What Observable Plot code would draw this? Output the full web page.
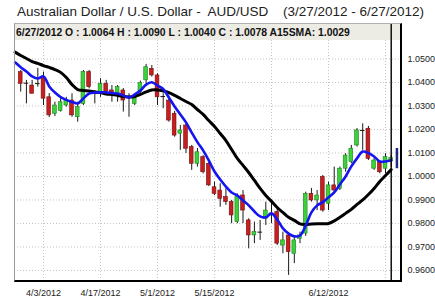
<!DOCTYPE html>
<html><head><meta charset="utf-8">
<script src="https://cdn.jsdelivr.net/npm/d3@7"></script>
<script src="https://cdn.jsdelivr.net/npm/@observablehq/plot@0.6"></script>
<style>
body{margin:0;background:#fff;font-family:"Liberation Sans",Arial,sans-serif;}
#wrap{position:relative;width:435px;height:297px;overflow:hidden;background:#fff;}
.t{position:absolute;top:5px;font-size:13.5px;line-height:13.5px;color:#222;white-space:pre;}
#bar{position:absolute;left:14px;top:23px;width:388px;height:17px;background:#ecebe4;z-index:1;}
#info{position:absolute;left:16px;top:28px;font-size:10.4px;line-height:10.4px;font-weight:bold;color:#111;white-space:pre;z-index:4;}
#chart{position:absolute;left:0;top:0;z-index:2;}
#frame{position:absolute;left:14px;top:23px;width:388px;height:259px;box-sizing:border-box;border-left:1px solid #9a9a9a;border-top:1px solid #b0b0b0;border-right:2px solid #000;border-bottom:2px solid #000;z-index:3;}
</style></head>
<body>
<div id="wrap">
  <div class="t" style="left:17px">Australian Dollar / U.S. Dollar -  AUD/USD</div>
  <div class="t" style="left:283px">(3/27/2012 - 6/27/2012)</div>
  <div id="bar"></div>
  <div id="info">6/27/2012 O : 1.0064 H : 1.0090 L : 1.0040 C : 1.0078 A15SMA: 1.0029</div>
  <div id="chart"></div>
  <div id="frame"></div>
</div>
<script>
const dates = ["3/27","3/28","3/29","3/30",
 "4/2","4/3","4/4","4/5","4/6","4/9","4/10","4/11","4/12","4/13","4/16","4/17","4/18","4/19","4/20","4/23","4/24","4/25","4/26","4/27","4/30",
 "5/1","5/2","5/3","5/4","5/7","5/8","5/9","5/10","5/11","5/14","5/15","5/16","5/17","5/18","5/21","5/22","5/23","5/24","5/25","5/28","5/29","5/30","5/31",
 "6/1","6/4","6/5","6/6","6/7","6/8","6/11","6/12","6/13","6/14","6/15","6/18","6/19","6/20","6/21","6/22","6/25","6/26","6/27"];

const open = [null,1.0444,1.0397,1.0387,1.0395,1.0423,1.0337,1.0267,1.0278,1.0302,1.0323,1.0252,1.0309,1.0444,1.0353,1.0352,1.0394,1.0366,1.0345,1.0366,1.0336,1.0309,1.0359,1.0409,1.0458,1.0430,1.0340,1.0323,1.0267,1.0182,1.0217,1.0125,1.0054,1.0082,1.0054,0.9954,0.9940,0.9912,0.9891,0.9806,0.9919,0.9813,0.9749,0.9763,0.9820,0.9843,0.9848,0.9706,0.9749,0.9671,0.9735,0.9757,0.9926,0.9898,0.9997,0.9884,0.9962,0.9948,1.0033,1.0061,1.0132,1.0196,1.0203,1.0033,1.0061,1.0033,1.0064];
const high = [null,1.0451,1.0409,1.0409,1.0460,1.0444,1.0353,1.0316,1.0331,1.0337,1.0352,1.0316,1.0451,1.0451,1.0366,1.0416,1.0409,1.0387,1.0387,1.0374,1.0352,1.0345,1.0406,1.0477,1.0472,1.0437,1.0352,1.0332,1.0277,1.0217,1.0226,1.0132,1.0119,1.0089,1.0061,0.9976,0.9969,0.9948,0.9898,0.9926,0.9940,0.9820,0.9806,0.9813,0.9891,0.9891,0.9864,0.9763,0.9757,0.9742,0.9763,0.9933,0.9949,0.9940,1.0004,0.9976,1.0040,1.0040,1.0097,1.0132,1.0204,1.0224,1.0213,1.0077,1.0068,1.0097,1.0090];
const low = [null,1.0359,1.0309,1.0352,1.0380,1.0302,1.0251,1.0255,1.0274,1.0295,1.0252,1.0231,1.0302,1.0373,1.0309,1.0337,1.0352,1.0316,1.0316,1.0274,1.0252,1.0302,1.0354,1.0394,1.0423,1.0302,1.0288,1.0231,1.0167,1.0111,1.0098,1.0026,1.0040,1.0011,0.9957,0.9919,0.9869,0.9877,0.9799,0.9799,0.9800,0.9692,0.9714,0.9728,0.9791,0.9800,0.9706,0.9671,0.9579,0.9629,0.9714,0.9745,0.9891,0.9855,0.9848,0.9855,0.9933,0.9940,1.0018,1.0054,1.0125,1.0111,1.0068,1.0026,1.0011,1.0011,1.0040];
const close = [null,1.0394,1.0397,1.0352,1.0395,1.0331,1.0260,1.0302,1.0316,1.0323,1.0260,1.0295,1.0444,1.0380,1.0353,1.0394,1.0359,1.0355,1.0380,1.0323,1.0336,1.0337,1.0397,1.0465,1.0430,1.0337,1.0340,1.0238,1.0174,1.0196,1.0118,1.0054,1.0103,1.0018,0.9962,0.9926,0.9905,0.9891,0.9834,0.9912,0.9855,0.9749,0.9763,0.9763,0.9855,0.9843,0.9714,0.9728,0.9678,0.9728,0.9749,0.9926,0.9898,0.9919,0.9855,0.9962,0.9940,1.0033,1.0089,1.0118,1.0196,1.0196,1.0075,1.0068,1.0018,1.0082,1.0078];

// 15-day SMA (black) and short average (blue)
const sma15 = [1.0529,1.0515,1.0502,1.0489,1.0481,1.0472,1.0464,1.0455,1.0443,1.0421,1.0391,1.0370,1.0366,1.0364,1.0360,1.0357,1.0351,1.0349,1.0345,1.0340,1.0338,1.0340,1.0349,1.0360,1.0368,1.0368,1.0364,1.0357,1.0345,1.0332,1.0319,1.0306,1.0285,1.0264,1.0238,1.0213,1.0183,1.0153,1.0115,1.0077,1.0047,1.0017,0.9983,0.9949,0.9919,0.9894,0.9868,0.9847,0.9826,0.9813,0.9798,0.9796,0.9798,0.9799,0.9799,0.9800,0.9811,0.9826,0.9843,0.9860,0.9881,0.9900,0.9923,0.9949,0.9979,1.0004,1.0029];
const blueMA = [1.0486,1.0465,1.0447,1.0426,1.0417,1.0426,1.0383,1.0357,1.0338,1.0326,1.0317,1.0311,1.0332,1.0353,1.0357,1.0358,1.0358,1.0355,1.0353,1.0345,1.0336,1.0349,1.0366,1.0391,1.0401,1.0387,1.0372,1.0336,1.0298,1.0264,1.0230,1.0187,1.0146,1.0111,1.0068,1.0021,0.9987,0.9957,0.9932,0.9919,0.9898,0.9877,0.9851,0.9830,0.9826,0.9843,0.9817,0.9779,0.9757,0.9745,0.9749,0.9791,0.9847,0.9877,0.9891,0.9911,0.9932,0.9966,1.0000,1.0043,1.0077,1.0106,1.0100,1.0085,1.0064,1.0064,1.0069];

// live (next) bar drawn after the current-day marker
const liveBar = [{lo: 1.0033, hi: 1.0119}];

const yTicks = [0.96,0.97,0.98,0.99,1.00,1.01,1.02,1.03,1.04,1.05];
const tickLabels = ["4/3/2012","4/17/2012","5/1/2012","5/15/2012","6/12/2012"];
const gridDates = ["4/3","4/17","5/1","5/15","5/29","6/12","6/26"];

const xDomain = [-0.09, 67.98];
const yDomain = [0.9553, 1.0651];
const gridTop = 1.0578;

const tickIdx = tickLabels.map(t => dates.indexOf(t.slice(0, t.lastIndexOf("/"))));
const gridIdx = gridDates.map(d => dates.indexOf(d));
const lastIdx = dates.length - 1;

const candles = dates.map((d, i) => ({i, d, o: open[i], h: high[i], l: low[i], c: close[i]})).filter(d => d.o != null);
const bodies = candles.filter(d => d.o !== d.c);
const dojis = candles.filter(d => d.o === d.c);
const smaData = sma15.map((v, i) => ({i, v}));
const blueData = blueMA.map((v, i) => ({i, v}));

const chart = Plot.plot({
  width: 435, height: 297,
  marginLeft: 14, marginRight: 33, marginTop: 23, marginBottom: 16,
  style: {background: "transparent", fontFamily: "'Liberation Sans', Arial, sans-serif", fontSize: "9px", color: "#222"},
  x: {domain: xDomain, axis: "bottom", ticks: tickIdx, tickFormat: i => tickLabels[tickIdx.indexOf(i)], tickSize: 0, tickPadding: 8, label: null},
  y: {domain: yDomain, axis: "right", ticks: yTicks, tickFormat: d3.format(".4f"), tickSize: 0, tickPadding: 5, label: null},
  marks: [
    Plot.ruleY(yTicks, {stroke: "#c4c4c4", strokeDasharray: "1,2"}),
    Plot.ruleX(gridIdx, {y1: yDomain[0], y2: gridTop, stroke: "#c4c4c4", strokeDasharray: "1,2"}),
    Plot.ruleX(candles, {x: "i", y1: "l", y2: "h", stroke: "#1a1a1a", strokeWidth: 1}),
    Plot.rect(bodies, {x1: d => d.i - 0.33, x2: d => d.i + 0.33, y1: "o", y2: "c",
      fill: d => d.c > d.o ? "#39d239" : "#c81e1e",
      stroke: d => d.c > d.o ? "#1f7f1f" : "#6e1010", strokeWidth: 0.6}),
    Plot.ruleY(dojis, {y: "c", x1: d => d.i - 0.4, x2: d => d.i + 0.4, stroke: "#111", strokeWidth: 1}),
    Plot.line(smaData, {x: "i", y: "v", stroke: "#000", strokeWidth: 3, curve: "catmull-rom"}),
    Plot.line(blueData, {x: "i", y: "v", stroke: "#1515f0", strokeWidth: 2.6, curve: "catmull-rom"}),
    Plot.ruleX([lastIdx], {stroke: "#000", strokeWidth: 1.4}),
    Plot.ruleX(liveBar, {x: () => lastIdx + 1, y1: "lo", y2: "hi", stroke: "#1e2a86", strokeWidth: 2.5})
  ]
});
document.getElementById("chart").appendChild(chart);
</script>
</body></html>
